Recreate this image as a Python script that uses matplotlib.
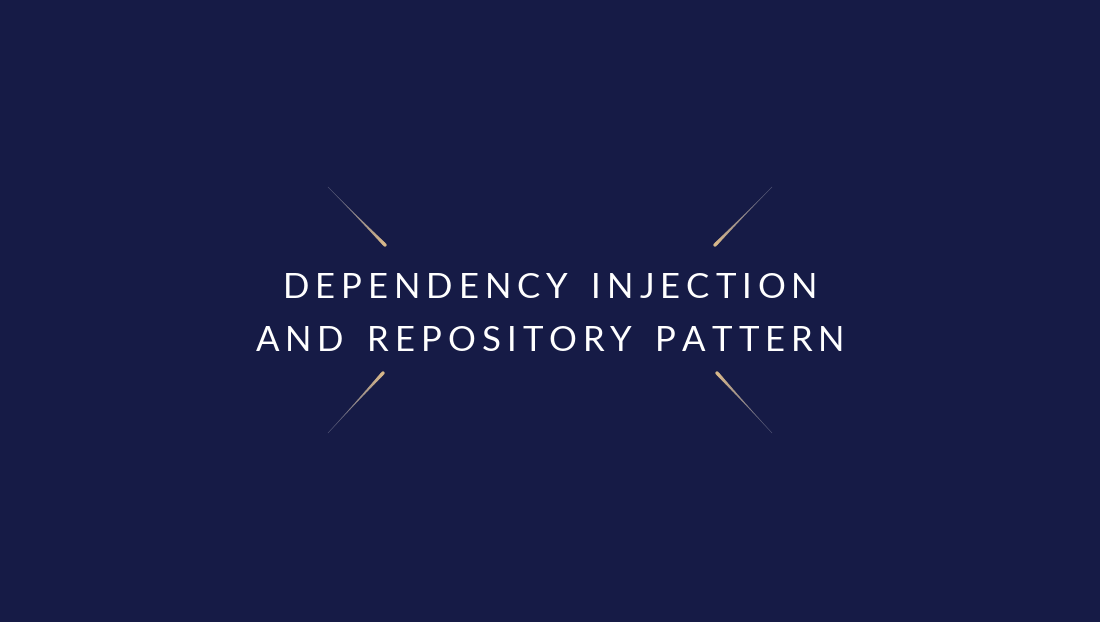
import matplotlib
matplotlib.use("Agg")
import matplotlib.pyplot as plt
import numpy as np
from matplotlib.collections import LineCollection
from matplotlib.colors import to_rgb

title_lines = ["DEPENDENCY INJECTION", "AND REPOSITORY PATTERN"]
line_y = [288, 341]
# (outer x, outer y, inner x, inner y) in pixels
rays = [(328, 187, 385, 245), (772, 187, 715, 245),
        (328, 433, 383, 373), (772, 433, 717, 373)]

W, H = 1100, 622
fig = plt.figure(figsize=(11, 6.22), dpi=100)
fig.patch.set_facecolor("#161b46")
ax = fig.add_axes([0, 0, 1, 1])
ax.set_xlim(0, W)
ax.set_ylim(H, 0)
ax.axis("off")
ax.set_facecolor("#161b46")

c_out = np.array(to_rgb("#6c6f8a"))
c_in = np.array(to_rgb("#d8b88a"))
for x0, y0, x1, y1 in rays:
    n = 40
    t = np.linspace(0, 1, n + 1)
    xs = x0 + (x1 - x0) * t
    ys = y0 + (y1 - y0) * t
    segs = [[(xs[i], ys[i]), (xs[i + 1], ys[i + 1])] for i in range(n)]
    tm = (t[:-1] + t[1:]) / 2
    cols = [tuple(c_out + (c_in - c_out) * v ** 1.5) for v in tm]
    widths = 0.3 + 2.2 * tm ** 2
    ax.add_collection(LineCollection(segs, colors=cols, linewidths=widths, capstyle="round"))

fig.canvas.draw()
renderer = fig.canvas.get_renderer()
tracking = 6.0
for txt, y in zip(title_lines, line_y):
    arts = []
    widths = []
    for ch in txt:
        a = ax.text(0, y, ch if ch != " " else "I", fontsize=25, family="Lato",
                    fontweight="normal", color="white", va="center", ha="left")
        w = a.get_window_extent(renderer).width
        if ch == " ":
            a.set_text("")
            w *= 1.2
        arts.append(a)
        widths.append(w)
    total = sum(widths) + tracking * (len(txt) - 1)
    x = W / 2 - total / 2
    for a, w in zip(arts, widths):
        a.set_x(x)
        x += w + tracking

fig.savefig("out.png", dpi=100, facecolor=fig.get_facecolor())
